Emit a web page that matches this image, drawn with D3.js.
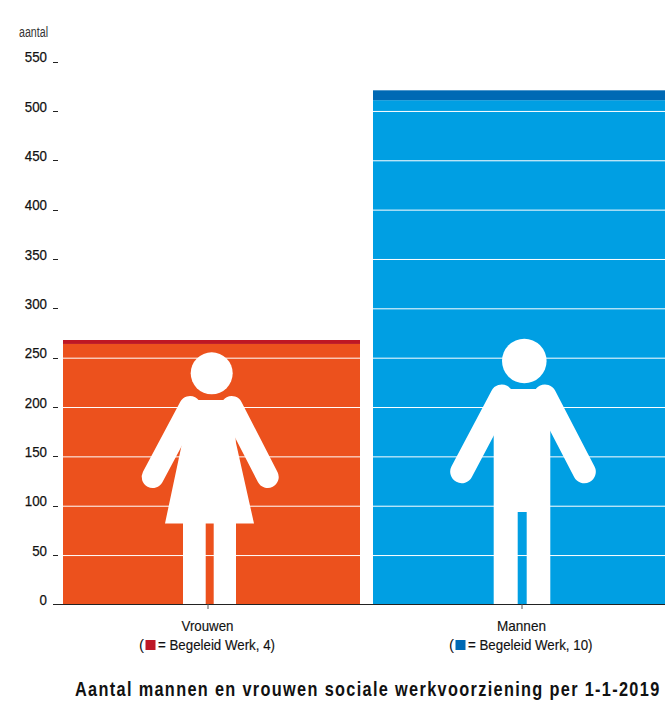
<!DOCTYPE html>
<html><head><meta charset="utf-8">
<script src="https://cdn.jsdelivr.net/npm/d3@7"></script>
<style>
html,body{margin:0;padding:0;background:#fff;overflow:hidden}
svg{display:block}
text{font-family:"Liberation Sans",sans-serif;fill:#111}
</style></head><body>
<div id="chart"></div>
<script>
const categories = ["Vrouwen", "Mannen"];
const mainValues = [264, 511];
const begeleidValues = [4, 10];
const mainColors = ["#EC511D", "#009FE3"];
const begeleidColors = ["#BE1724", "#0069B4"];
const yTicks = d3.range(0, 551, 50);
const gridValues = d3.range(50, 501, 50);
const yAxisLabel = "aantal";
const chartTitle = "Aantal mannen en vrouwen sociale werkvoorziening per 1-1-2019";

const W = 665, H = 701;
const svg = d3.select("#chart").append("svg").attr("width", W).attr("height", H);
const y = d3.scaleLinear().domain([0, 550]).range([604.5, 61.7]);
const pad = 13 / 310;
const x = d3.scaleBand().domain(categories).range([56.5, 676.5]).paddingInner(pad).paddingOuter(pad / 2);
const xTick = d3.scalePoint().domain(categories).range([208, 522]);

// condensed text helper: fit a text into a given measured width
function fit(sel, w) {
  return sel.attr("textLength", w).attr("lengthAdjust", "spacingAndGlyphs");
}

categories.forEach((c, i) => {
  svg.append("rect").attr("x", x(c)).attr("width", x.bandwidth())
    .attr("y", y(mainValues[i])).attr("height", y(0) - y(mainValues[i])).attr("fill", mainColors[i]);
  svg.append("rect").attr("x", x(c)).attr("width", x.bandwidth())
    .attr("y", y(mainValues[i] + begeleidValues[i])).attr("height", y(0) - y(begeleidValues[i])).attr("fill", begeleidColors[i]);
});

svg.append("g").selectAll("line").data(gridValues).join("line")
  .attr("x1", 63).attr("x2", W).attr("y1", d => y(d) + 0.4).attr("y2", d => y(d) + 0.4)
  .attr("stroke", "#fff").attr("stroke-width", 1);

// Pictograms
function figure(cx, base, head, r, arms, armW, body, extra) {
  const g = svg.append("g").attr("transform", `translate(${cx},${base})`).attr("fill", "#fff");
  g.append("circle").attr("cx", head[0]).attr("cy", head[1]).attr("r", r);
  arms.forEach(a => g.append("line").attr("x1", a[0]).attr("y1", a[1]).attr("x2", a[2]).attr("y2", a[3])
    .attr("stroke", "#fff").attr("stroke-width", armW).attr("stroke-linecap", "round"));
  g.append("path").attr("d", body);
  if (extra) g.append("path").attr("d", extra);
}
figure(xTick("Vrouwen"), 604, [3.7, -230.7], 21,
  [[-18, -197, -55.3, -127], [23.7, -197, 59.7, -127]], 22,
  "M-18,-204L24,-204L28,-161L46,-80.5L-43,-80.5L-27,-156Z",
  "M-25,-81H-2.3V0H-25ZM5.7,-81H28V0H5.7Z");
figure(xTick("Mannen"), 604, [2.3, -243], 22.3,
  [[-20.3, -208, -60.3, -132.3], [23, -208, 62.3, -132.3]], 23,
  "M-28.3,-215H28.3V0H4.7V-92H-4.3V0H-28.3Z");

// Axes
const yG = svg.append("g");
yG.selectAll("line").data(yTicks.filter(d => d > 0)).join("line")
  .attr("x1", 53).attr("x2", 58).attr("y1", d => Math.round(y(d)) + 0.5).attr("y2", d => Math.round(y(d)) + 0.5)
  .attr("stroke", "#222").attr("stroke-width", 1);
yG.selectAll("text").data(yTicks).join("text")
  .attr("x", d => 47 - 7.4 * String(d).length).attr("y", d => y(d) + 0.5)
  .attr("font-size", 15.5).style("stroke", "#111").style("stroke-width", 0.25)
  .attr("textLength", d => 7.4 * String(d).length).attr("lengthAdjust", "spacingAndGlyphs")
  .text(d => d);
svg.append("line").attr("x1", 53).attr("x2", W).attr("y1", 604.5).attr("y2", 604.5)
  .attr("stroke", "#222").attr("stroke-width", 1.2);
svg.selectAll(".xt").data(categories).join("line").attr("class", "xt")
  .attr("x1", d => xTick(d)).attr("x2", d => xTick(d)).attr("y1", 604).attr("y2", 609)
  .attr("stroke", "#555").attr("stroke-width", 1);

fit(svg.append("text").attr("x", 19).attr("y", 36.5).attr("font-size", 14).style("fill", "#333").text(yAxisLabel), 29);

// Category labels + legends
const labelWidths = [52, 49];
const legendLeft = [139, 449];
const legendWidths = [117, 124.5];
categories.forEach((c, i) => {
  const cx = xTick(c);
  fit(svg.append("text").attr("x", cx - labelWidths[i] / 2 - 0.5).attr("y", 630.5).attr("font-size", 15)
    .style("stroke", "#111").style("stroke-width", 0.15).text(c), labelWidths[i]);
  const left = legendLeft[i];
  svg.append("text").attr("x", left).attr("y", 650).attr("font-size", 15).text("(");
  svg.append("rect").attr("x", left + 6.5).attr("y", 640).attr("width", 10).attr("height", 10).attr("fill", begeleidColors[i]);
  fit(svg.append("text").attr("x", left + 19).attr("y", 650).attr("font-size", 15)
    .style("stroke", "#111").style("stroke-width", 0.15).text(`= Begeleid Werk, ${begeleidValues[i]})`), legendWidths[i]);
});

// Title: condensed by a horizontal scale so that its real width fits inside the page
const titleText = svg.append("text").attr("font-size", 19.5).attr("font-weight", "bold")
  .style("letter-spacing", "1.6px").text(chartTitle);
const titleLen = titleText.node().getComputedTextLength();
titleText.attr("transform", `translate(75,696) scale(${586 / titleLen},1)`);
</script>
</body></html>
